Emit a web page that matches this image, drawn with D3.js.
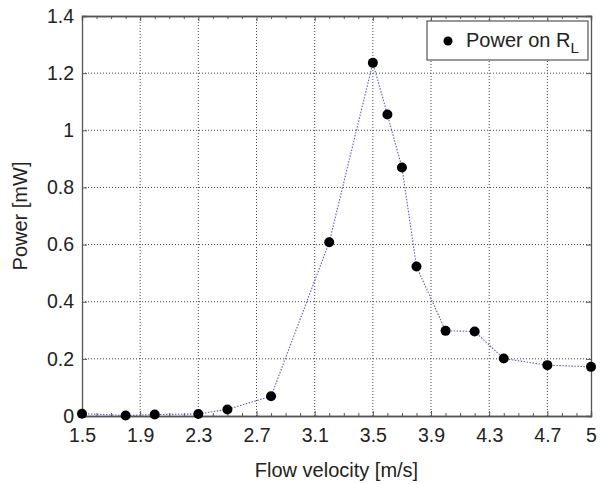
<!DOCTYPE html>
<html>
<head>
<meta charset="utf-8">
<script src="https://cdn.jsdelivr.net/npm/d3@7"></script>
<style>
  html, body { margin: 0; padding: 0; background: #fff; }
  svg text { font-family: "Liberation Sans", Arial, Helvetica, sans-serif; fill: #222; }
</style>
</head>
<body>
<svg id="chart" width="601" height="484"></svg>
<script>
// Measured output power on the load resistor vs. flow velocity
const velocity = [1.5, 1.8, 2.0, 2.3, 2.5, 2.8, 3.2, 3.5, 3.6, 3.7, 3.8, 4.0, 4.2, 4.4, 4.7, 5.0];
const power    = [0.008, 0.002, 0.005, 0.007, 0.023, 0.069, 0.608, 1.236, 1.055, 0.870, 0.523, 0.298, 0.296, 0.201, 0.178, 0.172];

const xTicks = [1.5, 1.9, 2.3, 2.7, 3.1, 3.5, 3.9, 4.3, 4.7, 5];
const xMinorTicks = [1.6, 1.7, 1.8, 2.0, 2.1, 2.2, 2.4, 2.5, 2.6, 2.8, 2.9, 3.0, 3.2, 3.3, 3.4,
                     3.6, 3.7, 3.8, 4.0, 4.1, 4.2, 4.4, 4.5, 4.6, 4.8, 4.9];
const yTicks = [0, 0.2, 0.4, 0.6, 0.8, 1, 1.2, 1.4];

const xLabel = "Flow velocity [m/s]";
const yLabel = "Power [mW]";
const legendLabel = "Power on R";
const legendSub = "L";

const margin = { left: 82, top: 16, right: 10, bottom: 68 };
const W = 601, H = 484;
const iw = W - margin.left - margin.right;
const ih = H - margin.top - margin.bottom;

const svg = d3.select("#chart");
const g = svg.append("g").attr("transform", `translate(${margin.left},${margin.top})`);

const x = d3.scaleLinear().domain([1.5, 5]).range([0, iw]);
const y = d3.scaleLinear().domain([0, 1.4]).range([ih, 0]);

const axisColor = "#555";
const gridColor = "#444";

// Dotted grid
g.append("g").selectAll("line").data(xTicks.slice(1, -1)).join("line")
  .attr("x1", d => x(d)).attr("x2", d => x(d))
  .attr("y1", 0).attr("y2", ih)
  .attr("stroke", gridColor).attr("stroke-width", 1)
  .attr("stroke-dasharray", "1,2");
g.append("g").selectAll("line").data(yTicks.slice(1, -1)).join("line")
  .attr("x1", 0).attr("x2", iw)
  .attr("y1", d => y(d)).attr("y2", d => y(d))
  .attr("stroke", gridColor).attr("stroke-width", 1)
  .attr("stroke-dasharray", "1,2");

// Axes with inward ticks
const fmt = d => d3.format("~g")(d);

const axisBottomG = g.append("g").attr("transform", `translate(0,${ih})`)
  .call(d3.axisBottom(x).tickValues(xTicks).tickSize(-5).tickPadding(12).tickFormat(fmt));
const axisBottomMinorG = g.append("g").attr("transform", `translate(0,${ih})`)
  .call(d3.axisBottom(x).tickValues(xMinorTicks).tickSize(-3).tickFormat(""));
const axisTopG = g.append("g")
  .call(d3.axisTop(x).tickValues(xTicks).tickSize(-5).tickFormat(""));
const axisTopMinorG = g.append("g")
  .call(d3.axisTop(x).tickValues(xMinorTicks).tickSize(-3).tickFormat(""));
const axisLeftG = g.append("g")
  .call(d3.axisLeft(y).tickValues(yTicks).tickSize(-5).tickPadding(8).tickFormat(fmt));
const axisRightG = g.append("g").attr("transform", `translate(${iw},0)`)
  .call(d3.axisRight(y).tickValues(yTicks).tickSize(-5).tickFormat(""));

[axisBottomG, axisBottomMinorG, axisTopG, axisTopMinorG, axisLeftG, axisRightG].forEach(a => {
  a.select(".domain").attr("stroke", axisColor).attr("stroke-width", 1.3);
  a.selectAll(".tick line").attr("stroke", axisColor).attr("stroke-width", 1);
  a.selectAll("text").style("font-size", "19.5px").attr("fill", "#222");
});

// Connecting line and markers
const line = d3.line().x((d, i) => x(velocity[i])).y(d => y(d));
g.append("path").datum(power)
  .attr("d", line)
  .attr("fill", "none")
  .attr("stroke", "#5a5ac8")
  .attr("stroke-width", 1.1)
  .attr("stroke-dasharray", "1.5,1.5");

g.append("g").selectAll("circle").data(power).join("circle")
  .attr("cx", (d, i) => x(velocity[i]))
  .attr("cy", d => y(d))
  .attr("r", 5)
  .attr("fill", "#000");

// Axis titles
svg.append("text")
  .attr("x", margin.left + iw / 2).attr("y", 477)
  .attr("text-anchor", "middle")
  .style("font-size", "20px")
  .text(xLabel);
svg.append("text")
  .attr("transform", `translate(27,${margin.top + ih / 2}) rotate(-90)`)
  .attr("text-anchor", "middle")
  .style("font-size", "20px")
  .text(yLabel);

// Legend
const lg = g.append("g").attr("transform", `translate(${427 - margin.left},${21 - margin.top})`);
lg.append("rect")
  .attr("width", 161).attr("height", 39)
  .attr("fill", "#fff").attr("stroke", axisColor).attr("stroke-width", 1.2);
lg.append("circle").attr("cx", 21).attr("cy", 20).attr("r", 4.5).attr("fill", "#000");
const lt = lg.append("text").attr("x", 39).attr("y", 26).style("font-size", "20px");
lt.append("tspan").text(legendLabel);
lt.append("tspan").attr("dy", 6).style("font-size", "15px").text(legendSub);
</script>
</body>
</html>
